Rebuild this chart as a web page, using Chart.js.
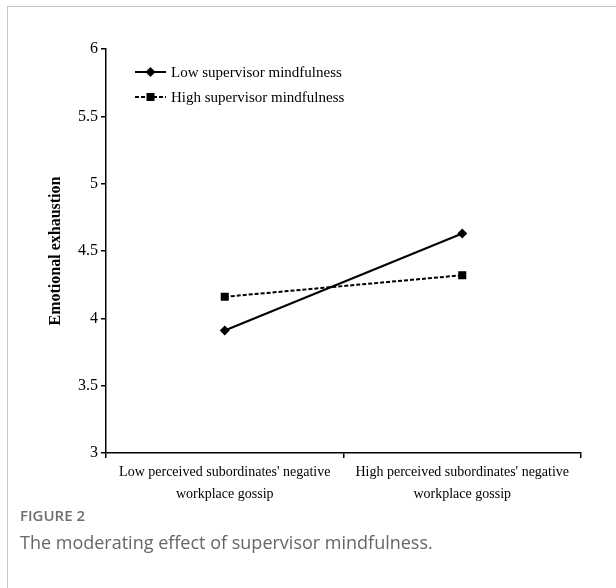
<!DOCTYPE html>
<html>
<head>
<meta charset="utf-8">
<script src="https://cdn.jsdelivr.net/npm/chart.js@4.4.1/dist/chart.umd.min.js"></script>
<style>
  body { margin: 0; background: #fff; }
  #frame {
    position: absolute; left: 7px; top: 6px; width: 609px; height: 582px;
    border-top: 1.5px solid #c4c4c4; border-left: 1.5px solid #c4c4c4;
  }
  #box { position: absolute; left: 0; top: 0; width: 616px; height: 510px; }
  .fig { position: absolute; left: 20px; top: 505px; font-family: "Open Sans"; font-weight: 600;
         font-size: 15px; color: #6e6e6e; line-height: 20px; }
  .cap { position: absolute; left: 20px; top: 530px; font-family: "Open Sans"; font-size: 18px;
         color: #666; line-height: 24px; }
</style>
</head>
<body>
<div id="frame"></div>
<div id="box"><canvas id="myChart"></canvas></div>
<div class="fig">FIGURE 2</div>
<div class="cap">The moderating effect of supervisor mindfulness.</div>
<script>
const categories = [
    ["Low perceived subordinates' negative", "workplace gossip"],
    ["High perceived subordinates' negative", "workplace gossip"],
];
const seriesNames = ["Low supervisor mindfulness", "High supervisor mindfulness"];
const lowMindfulness = [3.91, 4.63];
const highMindfulness = [4.16, 4.32];
const yTicks = [3, 3.5, 4, 4.5, 5, 5.5, 6];

const serif = "'Liberation Serif', 'Times New Roman', serif";

function drawMarker(ctx, style, x, y) {
    ctx.beginPath();
    if (style === "rectRot") {
        ctx.moveTo(x, y - 5);
        ctx.lineTo(x + 5, y);
        ctx.lineTo(x, y + 5);
        ctx.lineTo(x - 5, y);
        ctx.closePath();
    } else {
        ctx.rect(x - 4, y - 4, 8, 8);
    }
    ctx.fill();
}

// legend with line + marker, drawn inside the plot
const lineLegend = {
    id: "lineLegend",
    afterDraw(chart) {
        const ctx = chart.ctx;
        const area = chart.chartArea;
        ctx.save();
        chart.data.datasets.forEach(function (ds, i) {
            const y = area.top + 23 + i * 25;
            const x0 = area.left + 29;
            ctx.strokeStyle = ds.borderColor;
            ctx.fillStyle = ds.borderColor;
            ctx.lineWidth = ds.borderWidth;
            ctx.setLineDash(ds.borderDash || []);
            ctx.beginPath();
            ctx.moveTo(x0, y);
            ctx.lineTo(x0 + 31, y);
            ctx.stroke();
            ctx.setLineDash([]);
            drawMarker(ctx, ds.pointStyle, x0 + 15.5, y);
            ctx.font = "15px " + serif;
            ctx.textBaseline = "middle";
            ctx.fillStyle = "#000";
            ctx.fillText(ds.label, x0 + 36, y + 1);
        });
        ctx.restore();
    },
};

const config = {
    type: "line",
    data: {
        labels: categories,
        datasets: [
            {
                label: seriesNames[0],
                data: lowMindfulness,
                borderColor: "#000",
                backgroundColor: "#000",
                borderWidth: 2,
                pointStyle: "rectRot",
                pointRadius: 5,
                pointBorderWidth: 0,
            },
            {
                label: seriesNames[1],
                data: highMindfulness,
                borderColor: "#000",
                backgroundColor: "#000",
                borderWidth: 2,
                borderDash: [4, 2],
                pointStyle: "rect",
                pointRadius: 5.7,
                pointBorderWidth: 0,
            },
        ],
    },
    options: {
        responsive: true,
        maintainAspectRatio: false,
        animation: false,
        layout: { padding: { top: 49, right: 35, left: 0, bottom: 0 } },
        plugins: {
            legend: { display: false },
            tooltip: { enabled: false },
        },
        scales: {
            x: {
                offset: true,
                grid: {
                    offset: true,
                    drawOnChartArea: false,
                    drawTicks: true,
                    tickLength: 5,
                    color: "#000",
                    lineWidth: 1.5,
                },
                border: { color: "#000", width: 1.5 },
                ticks: {
                    color: "#000",
                    font: { family: serif, size: 14, lineHeight: 1.6 },
                    maxRotation: 0,
                    autoSkip: false,
                    padding: 3,
                },
                afterFit: function (scale) { scale.height = 57; },
            },
            y: {
                min: 3,
                max: 6,
                afterBuildTicks: function (scale) {
                    scale.ticks = yTicks.map(function (v) { return { value: v }; });
                },
                grid: {
                    drawOnChartArea: false,
                    drawTicks: true,
                    tickLength: 5,
                    color: "#000",
                    lineWidth: 1.5,
                },
                border: { color: "#000", width: 1.5 },
                ticks: {
                    color: "#000",
                    font: { family: serif, size: 16 },
                    padding: 3,
                    callback: function (v) { return String(v); },
                },
                title: {
                    display: true,
                    text: "Emotional exhaustion",
                    color: "#000",
                    font: { family: serif, size: 16, weight: "bold" },
                    padding: { top: 46, bottom: 0 },
                },
                afterFit: function (scale) { scale.width = 106; },
            },
        },
    },
    plugins: [lineLegend],
};

new Chart(document.getElementById("myChart"), config);
</script>
</body>
</html>
